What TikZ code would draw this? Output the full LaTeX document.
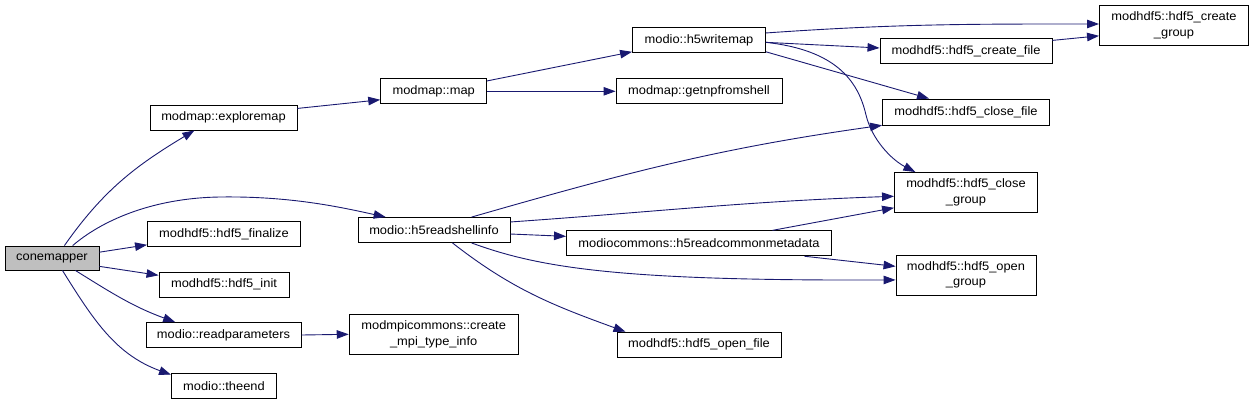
\documentclass[tikz,border=0pt]{standalone}
\usepackage{fontspec}
\setmainfont{Liberation Sans}[FakeStretch=1.055]
\usepackage{xcolor}
\usepackage{tikz}
\usetikzlibrary{arrows.meta}
\definecolor{edgeblue}{RGB}{25, 25, 112}
\definecolor{rootgray}{RGB}{191, 191, 191}

\begin{document}
\begin{tikzpicture}[x=1pt, y=1pt,
    fn/.style={draw=black, line width=0.9pt, fill=white, inner sep=0pt, align=center,
        font=\fontsize{12.2}{15.5}\selectfont},
    >={Triangle[length=12pt, width=8.5pt]},
    call/.style={->, draw=edgeblue, line width=0.9pt}]
            \useasboundingbox (0,0) rectangle (1253,-405);

            % colonna sinistra
            \node[fn, fill=rootgray, minimum width=94pt, minimum height=24pt] (cone) at (52,-258) {conemapper};
            \node[fn, minimum width=147pt, minimum height=25pt] (explore) at (223.5,-117.5) {modmap::exploremap};
            \node[fn, minimum width=153pt, minimum height=25pt] (finalize) at (224,-234) {modhdf5::hdf5\_finalize};
            \node[fn, minimum width=130pt, minimum height=25pt] (init) at (224,-284.5) {modhdf5::hdf5\_init};
            \node[fn, minimum width=155pt, minimum height=25pt] (readpar) at (223.5,-335) {modio::readparameters};
            \node[fn, minimum width=105pt, minimum height=25pt] (theend) at (224,-386) {modio::theend};

            \node[fn, minimum width=106pt, minimum height=25pt] (map) at (433.7,-91.3) {modmap::map};
            \node[fn, minimum width=152pt, minimum height=25pt] (h5rsi) at (434,-230) {modio::h5readshellinfo};
            \node[fn, minimum width=169pt, minimum height=40pt] (mpi) at (433.7,-334.3) {modmpicommons::create\\\_mpi\_type\_info};

            \node[fn, minimum width=133pt, minimum height=25pt] (h5wm) at (699,-40) {modio::h5writemap};
            \node[fn, minimum width=166pt, minimum height=25pt] (getnp) at (699,-91.3) {modmap::getnpfromshell};
            \node[fn, minimum width=265pt, minimum height=25pt] (rcm) at (699,-243.3) {modiocommons::h5readcommonmetadata};
            \node[fn, minimum width=164pt, minimum height=25pt] (openfile) at (699,-344.7) {modhdf5::hdf5\_open\_file};

            % colonna destra
            \node[fn, minimum width=149pt, minimum height=40pt] (cgroup) at (1174,-25.3) {modhdf5::hdf5\_create\\\_group};
            \node[fn, minimum width=172pt, minimum height=25pt] (cfile) at (966,-51) {modhdf5::hdf5\_create\_file};
            \node[fn, minimum width=167pt, minimum height=26pt] (closefile) at (966,-112) {modhdf5::hdf5\_close\_file};
            \node[fn, minimum width=143pt, minimum height=40pt] (closegroup) at (966,-192.5) {modhdf5::hdf5\_close\\\_group};
            \node[fn, minimum width=140pt, minimum height=40pt] (opengroup) at (966,-275) {modhdf5::hdf5\_open\\\_group};

            % chiamate da conemapper
            \draw[call] (cone.45) to[out=55, in=211] (explore.204);
            \draw[call] (cone.31) .. controls (100,-222) and (150,-198) .. (220,-197)
                .. controls (290,-196) and (340,-207) .. (h5rsi.165);
            \draw[call] (cone.7) -- (finalize.188);
            \draw[call] (cone.-10) -- (init.172);
            \draw[call] (cone.-28) to[out=-32, in=160] (readpar.165);
            \draw[call] (cone.-50) to[out=-58, in=160] (theend.168);

            \draw[call] (explore.7) -- (map.189);
            \draw[call] (map.11) -- (h5wm.190);
            \draw[call] (map.east) -- (getnp.west);
            \draw[call] (readpar.east) -- (mpi.west);

            % modio::h5writemap
            \draw[call] (h5wm.6) to[out=4, in=180] (cgroup.179);
            \draw[call] (h5wm.-2) -- (cfile.178);
            \draw[call] (h5wm.-10) -- (closefile.160);
            \draw[call] (h5wm.-2) .. controls (835,-50) and (858,-80) .. (866,-115)
                .. controls (872,-140) and (892,-160) .. (closegroup.158);
            \draw[call] (cfile.7) -- (cgroup.188);

            % modio::h5readshellinfo
            \draw[call] (h5rsi.19) to[out=16, in=188] (closefile.189);
            \draw[call] (h5rsi.6) to[out=4, in=182] (closegroup.183);
            \draw[call] (h5rsi.-3) -- (rcm.177);
            \draw[call] (h5rsi.-19) .. controls (540,-268) and (620,-281) .. (opengroup.184);
            \draw[call] (h5rsi.-35) to[out=-38, in=160] (openfile.170);

            \draw[call] (rcm.10) -- (closegroup.192);
            \draw[call] (rcm.-7) -- (opengroup.173);
        \end{tikzpicture}
\end{document}
